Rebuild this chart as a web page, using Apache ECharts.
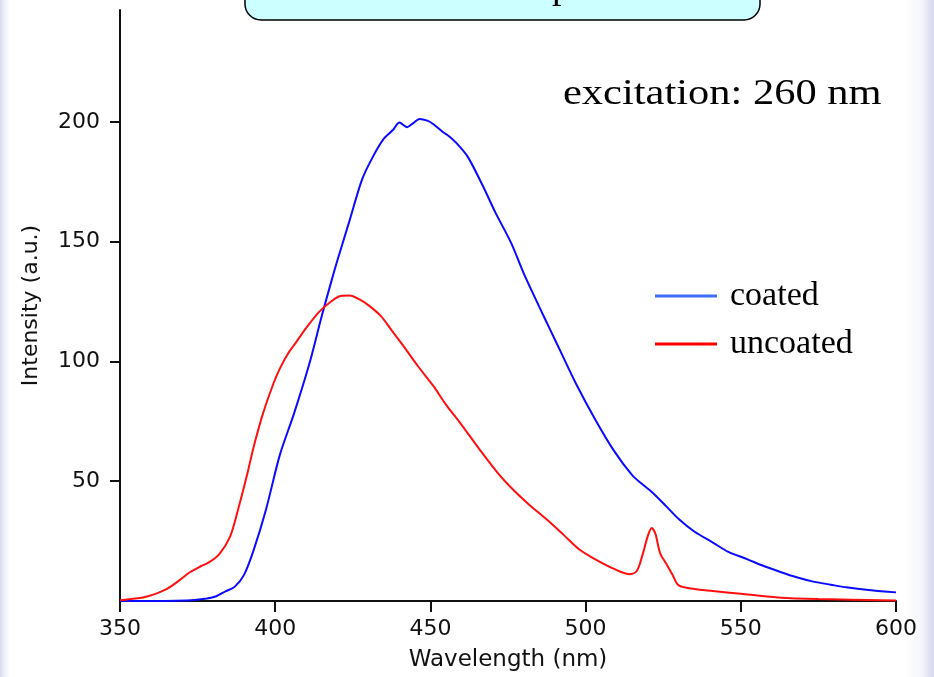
<!DOCTYPE html>
<html>
<head>
<meta charset="utf-8">
<script src="https://cdn.jsdelivr.net/npm/echarts@6/dist/echarts.min.js"></script>
<style>
  html, body { margin: 0; padding: 0; }
  body {
    width: 934px; height: 677px; overflow: hidden;
    background: linear-gradient(to right, #d9d9f1 0px, #f1f1fb 5px, #ffffff 10px, #ffffff 905px, #f5f5fc 922px, #dadaf2 932px);
  }
  #chart { width: 934px; height: 677px; }
</style>
</head>
<body>
<div id="chart"></div>
<script>
  // 发射光谱数据 (wavelength nm / intensity a.u.)
  var coatedWl = [350,360,368,374,378,381,384,387,390,393,397,401.5,406,411,415,418,420,424,428,431.5,435,438,440,442.5,444.5,446.5,449,451,454,456,458.5,462,467,471,476,480,485,488.5,492,497,503,509,515,518,521.5,526,530,535,541,546,552,557,563,568,573,579,584,592,600];
  var coatedInt = [0,0,0.1,0.4,1,2,4,6,11,21,38,61,78,99,119,133,142,159,176,185.5,193,196.7,199.7,197.8,199.5,201.2,200.5,199,195.8,194,191,185.5,173,162,149.5,137,123,113.5,104,90.5,76,63,52.5,49,45.3,39.5,34.2,29,24.4,20.5,17.5,14.8,12,9.9,8.2,6.8,5.7,4.5,3.6];
  var uncoatedWl = [350,355,359,365,369,372.5,376,378.5,382,385.5,388,391,393,396,399.5,401.5,404,407,410,414,418,421,424,427,430,434,437.5,441,446,451,455,459.5,466,472,477,482,487.5,493,498,503,509,514,516.5,518.5,520,521.3,522.5,524,526,528,530,535,541,550,562,575,600];
  var uncoatedInt = [0.3,1,2,5,8.5,12,14.5,16,19.6,27,38,53,64,78,91,97,103,108.5,114,120.5,125,127.3,127.5,126,123.5,119,113,107,98,89.7,82,74.5,63,53,46,40,34,27.5,21.5,17.5,13.5,11.2,12.5,20,27,30.5,28,20,15.5,11,6.5,5,4.2,3,1.5,0.8,0.2];
  var xTicks = [350, 400, 450, 500, 550, 600];
  var yTicks = [50, 100, 150, 200];

  function pairs(xs, ys) {
    return xs.map(function (x, i) { return [x, ys[i]]; });
  }

  var myChart = echarts.init(document.getElementById('chart'), null, { renderer: 'canvas' });
  var axisFont = '"DejaVu Sans", sans-serif';
  var serifFont = '"Liberation Serif", "Times New Roman", serif';

  var option = {
    backgroundColor: 'transparent',
    animation: false,
    grid: { left: 120, right: 38, top: 10, bottom: 75 },
    legend: {
      orient: 'vertical',
      left: 655,
      top: 279,
      padding: 0,
      icon: 'rect',
      itemWidth: 62,
      itemHeight: 3,
      itemGap: 14,
      textStyle: { fontFamily: serifFont, fontSize: 34, color: '#000', padding: [0, 0, 0, 8] },
      data: [
        { name: 'coated', itemStyle: { color: '#3f6bf5' } },
        { name: 'uncoated', itemStyle: { color: '#ff0000' } }
      ]
    },
    xAxis: {
      type: 'value',
      min: 350,
      max: 600,
      interval: 50,
      name: 'Wavelength (nm)',
      nameLocation: 'middle',
      nameGap: 48,
      nameTextStyle: { fontFamily: axisFont, fontSize: 23, color: '#111' },
      axisLine: { lineStyle: { color: '#111', width: 2 } },
      axisTick: { length: 11, lineStyle: { color: '#111', width: 2 } },
      axisLabel: { margin: 17, fontFamily: axisFont, fontSize: 22, color: '#111', customValues: xTicks },
      splitLine: { show: false }
    },
    yAxis: {
      type: 'value',
      min: 0,
      max: 246.7,
      name: 'Intensity (a.u.)',
      nameLocation: 'middle',
      nameGap: 78,
      nameTextStyle: { fontFamily: axisFont, fontSize: 22, color: '#111' },
      axisLine: { show: true, lineStyle: { color: '#111', width: 2 } },
      axisTick: { show: true, length: 10, lineStyle: { color: '#111', width: 2 }, customValues: yTicks },
      axisLabel: { margin: 20, fontFamily: axisFont, fontSize: 22, color: '#111', customValues: yTicks },
      splitLine: { show: false }
    },
    series: [
      {
        name: 'coated',
        type: 'line',
        data: pairs(coatedWl, coatedInt),
        showSymbol: false,
        smooth: 0.3,
        lineStyle: { color: '#0a0aff', width: 2 },
        itemStyle: { color: '#3f6bf5' }
      },
      {
        name: 'uncoated',
        type: 'line',
        data: pairs(uncoatedWl, uncoatedInt),
        showSymbol: false,
        smooth: 0.3,
        lineStyle: { color: '#ff1010', width: 2 },
        itemStyle: { color: '#ff0000' }
      }
    ],
    graphic: [
      {
        type: 'rect',
        shape: { x: 245, y: -30, width: 515, height: 50, r: 16 },
        style: { fill: '#ccffff', stroke: '#000', lineWidth: 1.5 }
      },
      {
        type: 'text',
        x: 552,
        y: -12,
        style: { text: 'p', font: '38px ' + serifFont, fill: '#000', textAlign: 'left', textVerticalAlign: 'middle' }
      },
      {
        type: 'text',
        x: 563,
        y: 95,
        scaleX: 1.18,
        style: { text: 'excitation: 260 nm', font: '36px ' + serifFont, fill: '#000', textAlign: 'left', textVerticalAlign: 'middle' }
      }
    ]
  };

  myChart.setOption(option, true);
  window.addEventListener('resize', function () {
    myChart.resize();
  });
</script>
</body>
</html>
